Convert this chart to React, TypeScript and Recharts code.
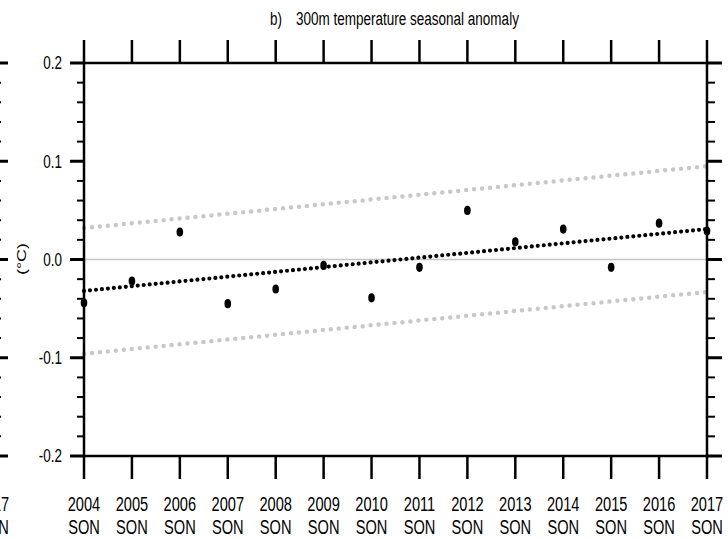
import React from "react";
import { ComposedChart, Line, XAxis, YAxis, ReferenceLine } from "recharts";

// SON seasons plotted on the x axis
const years = [2004, 2005, 2006, 2007, 2008, 2009, 2010, 2011, 2012, 2013, 2014, 2015, 2016, 2017];
const seasonLabel = "SON";

// 300m temperature seasonal anomaly (°C)
const anomaly = [-0.044, -0.022, 0.028, -0.045, -0.03, -0.006, -0.039, -0.008, 0.05, 0.018, 0.031, -0.008, 0.037, 0.029];

// linear trend and its bounds, first and last season only
const trendEnds = [-0.032, 0.031];
const upperEnds = [0.032, 0.095];
const lowerEnds = [-0.096, -0.033];

const yMajor = [-0.2, -0.1, 0, 0.1, 0.2];
const yMajorLabels = ["-0.2", "-0.1", "0.0", "0.1", "0.2"];
const yMinor = [-0.18, -0.16, -0.14, -0.12, -0.08, -0.06, -0.04, -0.02, 0.02, 0.04, 0.06, 0.08, 0.12, 0.14, 0.16, 0.18];
const yTicks = [...yMajor, ...yMinor].sort((a, b) => a - b);

// the reference lettering is a horizontally squeezed Helvetica
const FONT = "'Liberation Sans', Arial, Helvetica, sans-serif";
const SQUEEZE = 0.75;

const last = years.length - 1;
const data = years.map((year, i) => ({
    year,
    anomaly: anomaly[i],
    trend: i === 0 ? trendEnds[0] : i === last ? trendEnds[1] : null,
    upper: i === 0 ? upperEnds[0] : i === last ? upperEnds[1] : null,
    lower: i === 0 ? lowerEnds[0] : i === last ? lowerEnds[1] : null,
}));

const majorIndex = (v: number) => yMajor.findIndex((m) => Math.abs(m - v) < 1e-6);

const SqText = (props: { x: number; y: number; anchor: string; size: number; dy?: string; children: React.ReactNode }) => (
    <text
        transform={`translate(${props.x} ${props.y}) scale(${SQUEEZE} 1)`}
        x={0}
        y={0}
        dy={props.dy}
        textAnchor={props.anchor}
        fontSize={props.size}
        fontFamily={FONT}
        fill="#000"
    >
        {props.children}
    </text>
);

const LeftTick = (props: any) => {
    const { x, y, payload } = props;
    const mi = majorIndex(payload.value);
    const len = mi >= 0 ? 14 : 7;
    return (
        <g>
            <line x1={x} x2={x - len} y1={y} y2={y} stroke="#000" strokeWidth={mi >= 0 ? 3 : 2} />
            {mi >= 0 && (
                <SqText x={x - 22} y={y} dy="0.36em" anchor="end" size={18}>
                    {yMajorLabels[mi]}
                </SqText>
            )}
        </g>
    );
};

const RightTick = (props: any) => {
    const { x, y, payload } = props;
    const mi = majorIndex(payload.value);
    const len = mi >= 0 ? 15 : 8;
    return <line x1={x} x2={x + len} y1={y} y2={y} stroke="#000" strokeWidth={mi >= 0 ? 3 : 2} />;
};

const BottomTick = (props: any) => {
    const { x, y, payload } = props;
    return (
        <g>
            <line x1={x} x2={x} y1={y} y2={y + 23} stroke="#000" strokeWidth={2.5} />
            <SqText x={x} y={y + 55} anchor="middle" size={19.5}>
                {payload.value}
            </SqText>
            <SqText x={x} y={y + 78} anchor="middle" size={19.5}>
                {seasonLabel}
            </SqText>
        </g>
    );
};

const TopTick = (props: any) => {
    const { x, y } = props;
    return <line x1={x} x2={x} y1={y} y2={y - 23} stroke="#000" strokeWidth={2.5} />;
};

const AnomalyDot = (props: any) => {
    const { cx, cy, index } = props;
    if (cx == null || cy == null) return <g key={index} />;
    return <ellipse key={index} cx={cx} cy={cy} rx={3.3} ry={4.6} fill="#000" />;
};

const axisLine = { stroke: "#000", strokeWidth: 2.5 };

const Panel: React.FC<{ showSeries: boolean }> = ({ showSeries }) => (
    <ComposedChart width={728} height={539} data={data} margin={{ top: 0, right: 0, bottom: 0, left: 0 }}>
        <XAxis
            xAxisId="b"
            dataKey="year"
            type="number"
            domain={[2004, 2017]}
            ticks={years}
            interval={0}
            height={83}
            tickSize={0}
            tickMargin={0}
            tickLine={false}
            axisLine={axisLine}
            tick={<BottomTick />}
        />
        <XAxis
            xAxisId="t"
            dataKey="year"
            orientation="top"
            type="number"
            domain={[2004, 2017]}
            ticks={years}
            interval={0}
            height={63}
            tickSize={0}
            tickMargin={0}
            tickLine={false}
            axisLine={axisLine}
            tick={<TopTick />}
        />
        <YAxis
            yAxisId="l"
            type="number"
            domain={[-0.2, 0.2]}
            ticks={yTicks}
            interval={0}
            width={84}
            tickSize={0}
            tickMargin={0}
            tickLine={false}
            axisLine={axisLine}
            tick={<LeftTick />}
        />
        <YAxis
            yAxisId="r"
            orientation="right"
            type="number"
            domain={[-0.2, 0.2]}
            ticks={yTicks}
            interval={0}
            width={21}
            tickSize={0}
            tickMargin={0}
            tickLine={false}
            axisLine={axisLine}
            tick={<RightTick />}
        />
        <ReferenceLine xAxisId="b" yAxisId="l" y={0} stroke="#c4c4c4" strokeWidth={1.5} />
        {/* invisible series so the frame axes get their scales */}
        <Line
            xAxisId="t"
            yAxisId="r"
            dataKey="anomaly"
            stroke="none"
            dot={false}
            activeDot={false}
            legendType="none"
            isAnimationActive={false}
        />
        {!showSeries && (
            <Line
                xAxisId="b"
                yAxisId="l"
                dataKey="anomaly"
                stroke="none"
                dot={false}
                activeDot={false}
                legendType="none"
                isAnimationActive={false}
            />
        )}
        {showSeries && (
            <Line
                xAxisId="b"
                yAxisId="l"
                dataKey="upper"
                type="linear"
                connectNulls
                stroke="#c8c8c8"
                strokeWidth={4.5}
                strokeDasharray="0 8"
                strokeLinecap="round"
                dot={false}
                isAnimationActive={false}
            />
        )}
        {showSeries && (
            <Line
                xAxisId="b"
                yAxisId="l"
                dataKey="lower"
                type="linear"
                connectNulls
                stroke="#c8c8c8"
                strokeWidth={4.5}
                strokeDasharray="0 8"
                strokeLinecap="round"
                dot={false}
                isAnimationActive={false}
            />
        )}
        {showSeries && (
            <Line
                xAxisId="b"
                yAxisId="l"
                dataKey="trend"
                type="linear"
                connectNulls
                stroke="#000"
                strokeWidth={4.2}
                strokeDasharray="0 6"
                strokeLinecap="round"
                dot={false}
                isAnimationActive={false}
            />
        )}
        {showSeries && (
            <Line
                xAxisId="b"
                yAxisId="l"
                dataKey="anomaly"
                stroke="none"
                dot={<AnomalyDot />}
                activeDot={false}
                isAnimationActive={false}
            />
        )}
    </ComposedChart>
);

const squeezed: React.CSSProperties = {
    position: "absolute",
    fontFamily: FONT,
    whiteSpace: "pre",
    color: "#000",
    lineHeight: "normal",
};

export default function App() {
    return (
        <div
            style={{
                position: "fixed",
                left: 0,
                top: 0,
                width: 728,
                height: 539,
                overflow: "hidden",
                background: "#fff",
            }}
        >
            {/* right edge of the neighbouring panel a) */}
            <div style={{ position: "absolute", left: -714, top: 0 }}>
                <Panel showSeries={false} />
            </div>
            <div style={{ position: "absolute", left: 0, top: 0 }}>
                <Panel showSeries={true} />
            </div>
            <div
                style={{
                    ...squeezed,
                    left: 270,
                    top: 9,
                    fontSize: 18,
                    transform: `scaleX(${SQUEEZE})`,
                    transformOrigin: "left top",
                }}
            >
                {"b)"}
            </div>
            <div
                style={{
                    ...squeezed,
                    left: 296,
                    top: 9,
                    fontSize: 18,
                    transform: `scaleX(${SQUEEZE})`,
                    transformOrigin: "left top",
                }}
            >
                300m temperature seasonal anomaly
            </div>
            <div
                style={{
                    ...squeezed,
                    left: 22,
                    top: 259,
                    fontSize: 18,
                    transform: `translate(-50%, -50%) rotate(-90deg) scaleY(${SQUEEZE})`,
                }}
            >
                (°C)
            </div>
        </div>
    );
}
